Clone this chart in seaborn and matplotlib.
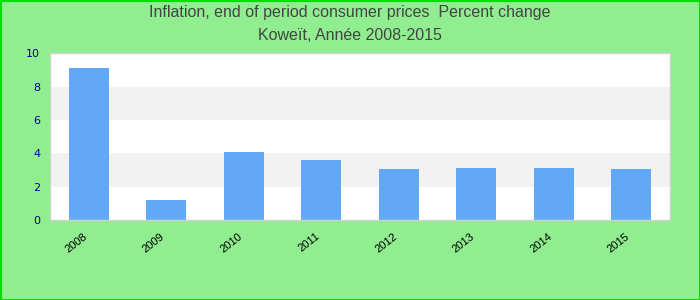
import matplotlib
matplotlib.use("Agg")
import matplotlib.pyplot as plt
import matplotlib.transforms as mtransforms
import seaborn as sns
import pandas as pd

years = ["2008", "2009", "2010", "2011", "2012", "2013", "2014", "2015"]
values = [9.1, 1.2, 4.1, 3.6, 3.07, 3.13, 3.13, 3.07]
yticks = [0, 2, 4, 6, 8, 10]
title_line1 = "Inflation, end of period consumer prices  Percent change"
title_line2 = "Koweït, Année 2008-2015"

sns.set_style("white")
plt.rcParams["font.family"] = ["Liberation Sans", "DejaVu Sans"]

df = pd.DataFrame({"year": years, "value": values})

fig = plt.figure(figsize=(7, 3), dpi=100)
fig.patch.set_facecolor("#90EE90")
ax = fig.add_axes([50 / 700, 80 / 300, 620 / 700, 166.5 / 300])
ax.set_facecolor("white")

# alternating bands
for lo, hi in [(2, 4), (6, 8)]:
    ax.axhspan(lo, hi, color="#F2F2F2", zorder=0, lw=0)

sns.barplot(data=df, x="year", y="value", color="#61A9F5", saturation=1,
            width=0.52, ax=ax, zorder=2, linewidth=0)

ax.set_ylim(0, 10)
ax.set_xlim(-0.5, len(years) - 0.5)
ax.set_yticks(yticks)
ax.set_yticklabels([str(t) for t in yticks], color="#000099", fontsize=8,
                   family="DejaVu Sans")
ax.tick_params(axis="y", length=0, pad=7)
ax.tick_params(axis="x", length=0, pad=8)
offset = mtransforms.ScaledTranslation(-6 / 100, 0, fig.dpi_scale_trans)
for lab in ax.get_xticklabels():
    lab.set_rotation(38)
    lab.set_fontsize(8)
    lab.set_ha("right")
    lab.set_rotation_mode("anchor")
    lab.set_color("black")
    lab.set_transform(lab.get_transform() + offset)
ax.set_xlabel("")
ax.set_ylabel("")
for s in ax.spines.values():
    s.set_color("#D0D0D0")
    s.set_linewidth(1)

fig.text(0.5, 1 - 13 / 300, title_line1, ha="center", va="center",
         fontsize=11.5, color="#444444")
fig.text(0.5, 1 - 35 / 300, title_line2, ha="center", va="center",
         fontsize=11.5, color="#444444")

# outer border
border = plt.Rectangle((0.5 / 700, 0.5 / 300), 699 / 700, 299 / 300,
                       transform=fig.transFigure, fill=False,
                       edgecolor="#00DD00", lw=1.5)
fig.patches.append(border)

fig.savefig("out.png", dpi=100, facecolor=fig.get_facecolor())
